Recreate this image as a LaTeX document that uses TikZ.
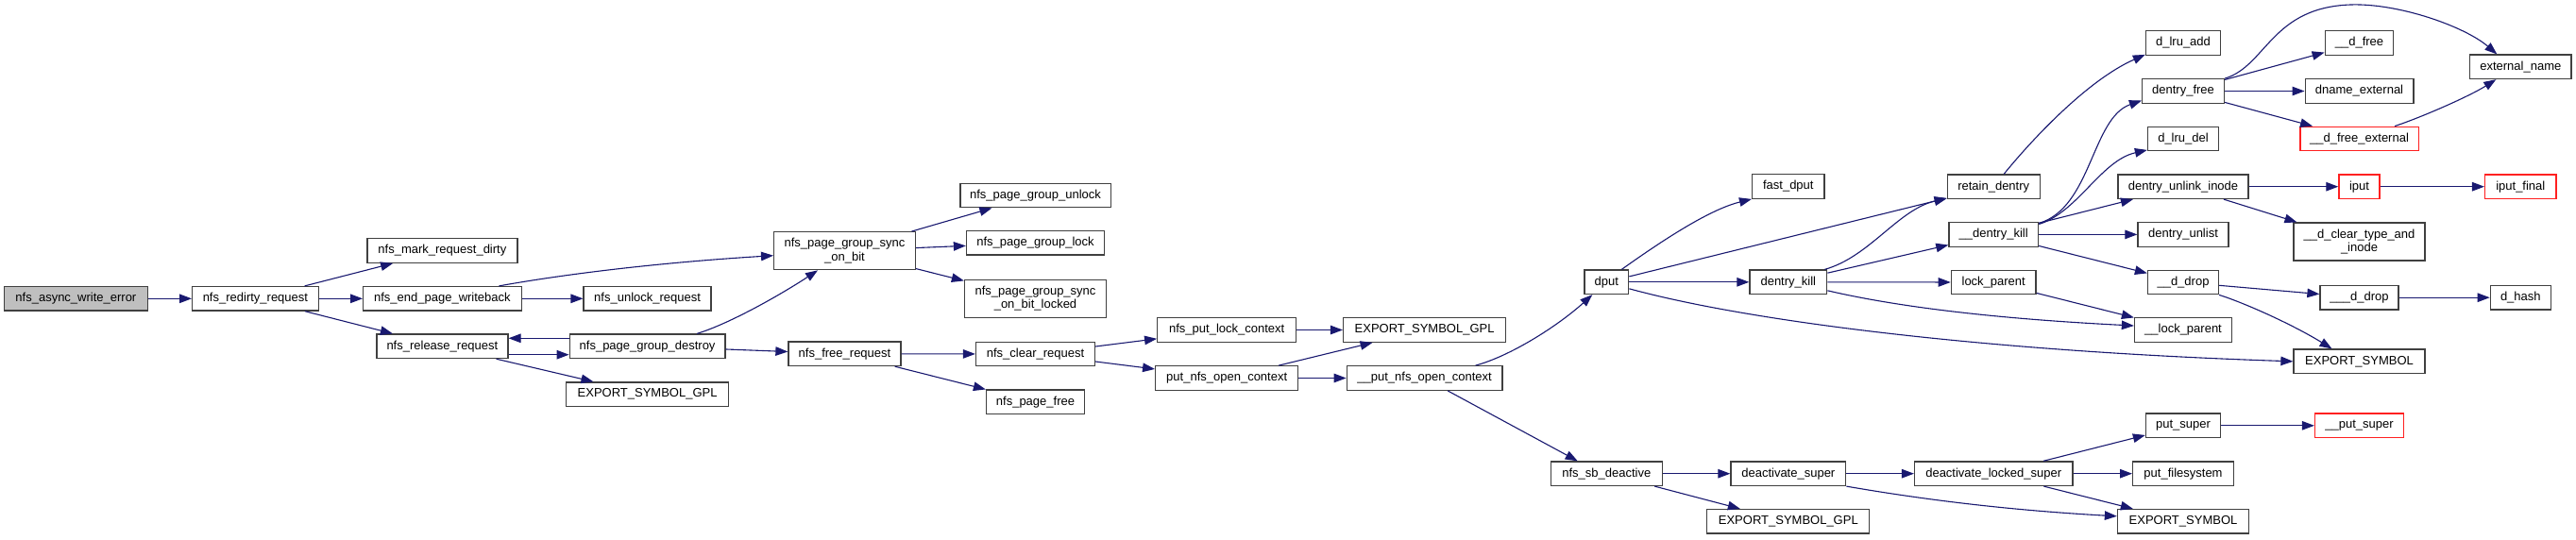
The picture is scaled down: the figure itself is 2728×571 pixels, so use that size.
\documentclass[tikz,border=0pt]{standalone}
\usepackage{fontspec}
\setmainfont{Liberation Sans}
\usetikzlibrary{arrows.meta,calc}
\definecolor{edgeblue}{HTML}{191970}
\definecolor{rootgray}{HTML}{BFBFBF}
\definecolor{nodeborder}{HTML}{404040}
\definecolor{nodered}{HTML}{FF2020}
\begin{document}
\begin{tikzpicture}[x=1pt,y=-1pt,
  box/.style={draw=nodeborder, line width=1.3pt, rectangle, inner sep=0pt, minimum height=25.5pt, fill=white, font=\fontsize{13}{14.5}\selectfont, align=center},
  tall/.style={minimum height=40pt},
  trunc/.style={draw=nodered},
  edge/.style={draw=edgeblue, line width=1.1pt, -{Triangle[length=13pt,width=9.5pt]}}
]
\fill[white] (0,0) rectangle (2728,571);
\useasboundingbox (0,0) rectangle (2728,571);

\node[box, fill=rootgray, minimum width=151.5pt] (async) at (80.4,316.3) {nfs\_async\_write\_error};
\node[box, minimum width=133.5pt] (redirty) at (270.4,316.3) {nfs\_redirty\_request};
\node[box, minimum width=159pt] (markdirty) at (468.4,265.5) {nfs\_mark\_request\_dirty};
\node[box, minimum width=167.5pt] (endpw) at (468.4,316.3) {nfs\_end\_page\_writeback};
\node[box, minimum width=139pt] (release) at (468.4,366.8) {nfs\_release\_request};
\node[box, tall, minimum width=149.7pt] (syncbit) at (894.5,265.7) {nfs\_page\_group\_sync\\\_on\_bit};
\node[box, minimum width=135pt] (unlockreq) at (685.6,316.3) {nfs\_unlock\_request};
\node[box, minimum width=164.7pt] (destroy) at (685.6,366.8) {nfs\_page\_group\_destroy};
\node[box, minimum width=172.2pt] (esgA) at (685.6,417.7) {EXPORT\_SYMBOL\_GPL};
\node[box, minimum width=119pt] (freereq) at (894.5,374.8) {nfs\_free\_request};
\node[box, minimum width=159.3pt] (pgunlock) at (1096.5,207) {nfs\_page\_group\_unlock};
\node[box, minimum width=146pt] (pglock) at (1096.5,257.3) {nfs\_page\_group\_lock};
\node[box, tall, minimum width=150pt] (pglocked) at (1096.5,316.3) {nfs\_page\_group\_sync\\\_on\_bit\_locked};
\node[box, minimum width=126pt] (clearreq) at (1096.5,375) {nfs\_clear\_request};
\node[box, minimum width=104pt] (pagefree) at (1096.5,425.7) {nfs\_page\_free};
\node[box, minimum width=147pt] (putlock) at (1299.2,349.5) {nfs\_put\_lock\_context};
\node[box, minimum width=151pt] (pnoc) at (1299.2,400.5) {put\_nfs\_open\_context};
\node[box, minimum width=172pt] (esgB) at (1508.6,349.5) {EXPORT\_SYMBOL\_GPL};
\node[box, minimum width=164.6pt] (upnoc) at (1508.6,400.5) {\_\_put\_nfs\_open\_context};
\node[box, minimum width=46.7pt] (dput) at (1701.3,298.8) {dput};
\node[box, minimum width=118pt] (sbdeact) at (1701.3,501.7) {nfs\_sb\_deactive};
\node[box, minimum width=76.4pt] (fastdput) at (1893.8,197.5) {fast\_dput};
\node[box, minimum width=81.7pt] (dkill) at (1893.8,298.8) {dentry\_kill};
\node[box, minimum width=121.7pt] (deactsuper) at (1893.8,501.7) {deactivate\_super};
\node[box, minimum width=172pt] (esgC) at (1893.8,552.3) {EXPORT\_SYMBOL\_GPL};
\node[box, minimum width=97.9pt] (retain) at (2111.2,197.7) {retain\_dentry};
\node[box, minimum width=94.6pt] (udkill) at (2111.2,248.4) {\_\_dentry\_kill};
\node[box, minimum width=89.7pt] (lockparent) at (2111.2,299) {lock\_parent};
\node[box, minimum width=167.3pt] (deactlocked) at (2111.2,501.7) {deactivate\_locked\_super};
\node[box, minimum width=79pt] (dlruadd) at (2312,45.5) {d\_lru\_add};
\node[box, minimum width=86.8pt] (dentryfree) at (2312,96.5) {dentry\_free};
\node[box, minimum width=75pt] (dlrudel) at (2312,147) {d\_lru\_del};
\node[box, minimum width=137.9pt] (unlinkinode) at (2312,197.7) {dentry\_unlink\_inode};
\node[box, minimum width=96pt] (dunlist) at (2312,248.4) {dentry\_unlist};
\node[box, minimum width=75pt] (uddrop) at (2312,299) {\_\_d\_drop};
\node[box, minimum width=103pt] (ulockparent) at (2312,349.5) {\_\_lock\_parent};
\node[box, minimum width=79pt] (putsuper) at (2312,450.8) {put\_super};
\node[box, minimum width=106.7pt] (putfs) at (2312,501.7) {put\_filesystem};
\node[box, minimum width=139pt] (esB) at (2312,552.3) {EXPORT\_SYMBOL};
\node[box, minimum width=72.5pt] (udfree) at (2498.5,45.5) {\_\_d\_free};
\node[box, minimum width=114.7pt] (dnameext) at (2498.5,96.5) {dname\_external};
\node[box, trunc, minimum width=125.3pt] (udfreeext) at (2498.5,147) {\_\_d\_free\_external};
\node[box, trunc, minimum width=43.2pt] (iput) at (2498.5,197.7) {iput};
\node[box, tall, minimum width=139pt] (dclear) at (2498.5,256) {\_\_d\_clear\_type\_and\\\_inode};
\node[box, minimum width=83pt] (uuddrop) at (2498.5,315.2) {\_\_\_d\_drop};
\node[box, minimum width=139pt] (esA) at (2498.5,382.8) {EXPORT\_SYMBOL};
\node[box, trunc, minimum width=94pt] (uputsuper) at (2498.5,450.8) {\_\_put\_super};
\node[box, minimum width=107.5pt] (extname) at (2669.3,70.8) {external\_name};
\node[box, trunc, minimum width=75.4pt] (iputfinal) at (2669.3,197.7) {iput\_final};
\node[box, minimum width=64pt] (dhash) at (2669.3,315.2) {d\_hash};

% edges
\draw[edge] (async) -- (redirty);
\draw[edge] (redirty) -- (markdirty);
\draw[edge] (redirty) -- (endpw);
\draw[edge] (redirty) -- (release);
\draw[edge] ($(endpw.north)+(60,0)$) .. controls (600,290) and (700,278) .. ($(syncbit.west)+(0,5)$);
\draw[edge] (endpw) -- (unlockreq);
\draw[edge] ($(release.east)+(0,8.9)$) -- ($(destroy.west)+(0,8.9)$);
\draw[edge] ($(destroy.west)+(0,-8.5)$) -- ($(release.east)+(0,-8.5)$);
\draw[edge] (release) -- (esgA);
\draw[edge] ($(destroy.north)+(52.5,0)$) .. controls (775,342) and (830,310) .. ($(syncbit.south)+(-28.5,0)$);
\draw[edge] (destroy) -- (freereq);
\draw[edge] (syncbit) -- (pgunlock);
\draw[edge] (syncbit) -- (pglock);
\draw[edge] (syncbit) -- (pglocked);
\draw[edge] (freereq) -- (clearreq);
\draw[edge] (freereq) -- (pagefree);
\draw[edge] (clearreq) -- (putlock);
\draw[edge] (clearreq) -- (pnoc);
\draw[edge] (putlock) -- (esgB);
\draw[edge] (pnoc) -- (esgB);
\draw[edge] (pnoc) -- (upnoc);
\draw[edge] ($(upnoc.north)+(54,0)$) .. controls (1600,377) and (1650,345) .. ($(dput.south)+(-15,0)$);
\draw[edge] ($(upnoc.south)+(24.5,0)$) -- ($(sbdeact.north)+(-30.6,0)$);
\draw[edge] ($(dput.north)+(16,0)$) .. controls (1760,255) and (1810,222) .. (fastdput.south west);
\draw[edge] (dput) -- (retain);
\draw[edge] (dput) -- (dkill);
\draw[edge] ($(dput.east)+(0,7)$) .. controls (1850,340) and (2100,372) .. (esA.west);
\draw[edge] ($(dkill.north east)+(-3,0)$) .. controls (1980,272) and (2010,222) .. ($(retain.south west)+(0,-1)$);
\draw[edge] (dkill) -- (udkill);
\draw[edge] (dkill) -- (lockparent);
\draw[edge] ($(dkill.east)+(0,9)$) .. controls (2000,323) and (2100,337) .. ($(ulockparent.west)+(0,-4.5)$);
\draw[edge] (lockparent) -- (ulockparent);
\draw[edge] ($(retain.north)+(11,0)$) .. controls (2150,150) and (2210,85) .. ($(dlruadd.south west)+(0,-1)$);
\draw[edge] ($(udkill.north east)+(0,1.5)$) .. controls (2215,220) and (2215,125) .. ($(dentryfree.west)+(0,10)$);
\draw[edge] ($(udkill.north east)+(0,2.5)$) .. controls (2200,225) and (2225,170) .. ($(dlrudel.south west)+(0,-1.5)$);
\draw[edge] (udkill) -- (unlinkinode);
\draw[edge] (udkill) -- (dunlist);
\draw[edge] (udkill) -- (uddrop);
\draw[edge] (dentryfree.north east) .. controls (2400,70) and (2405,8) .. (2489,5) .. controls (2540,3.2) and (2610,28) .. ($(extname.north)+(-25,0)$);
\draw[edge] (dentryfree) -- (udfree);
\draw[edge] (dentryfree) -- (dnameext);
\draw[edge] (dentryfree) -- (udfreeext);
\draw[edge] ($(udfreeext.north)+(37.5,0)$) .. controls (2565,124) and (2615,102) .. ($(extname.south)+(-26,0)$);
\draw[edge] (unlinkinode) -- (iput);
\draw[edge] (unlinkinode) -- (dclear);
\draw[edge] (iput) -- (iputfinal);
\draw[edge] (uddrop) -- (uuddrop);
\draw[edge] (uddrop.south east) .. controls (2380,322) and (2430,345) .. ($(esA.north)+(-29,0)$);
\draw[edge] (uuddrop) -- (dhash);
\draw[edge] (sbdeact) -- (deactsuper);
\draw[edge] (sbdeact) -- (esgC);
\draw[edge] (deactsuper) -- (deactlocked);
\draw[edge] (deactsuper.south east) .. controls (2030,528) and (2120,540) .. ($(esB.west)+(0,-5.5)$);
\draw[edge] (deactlocked) -- (putsuper);
\draw[edge] (deactlocked) -- (putfs);
\draw[edge] (deactlocked) -- (esB);
\draw[edge] (putsuper) -- (uputsuper);
\end{tikzpicture}
\end{document}
